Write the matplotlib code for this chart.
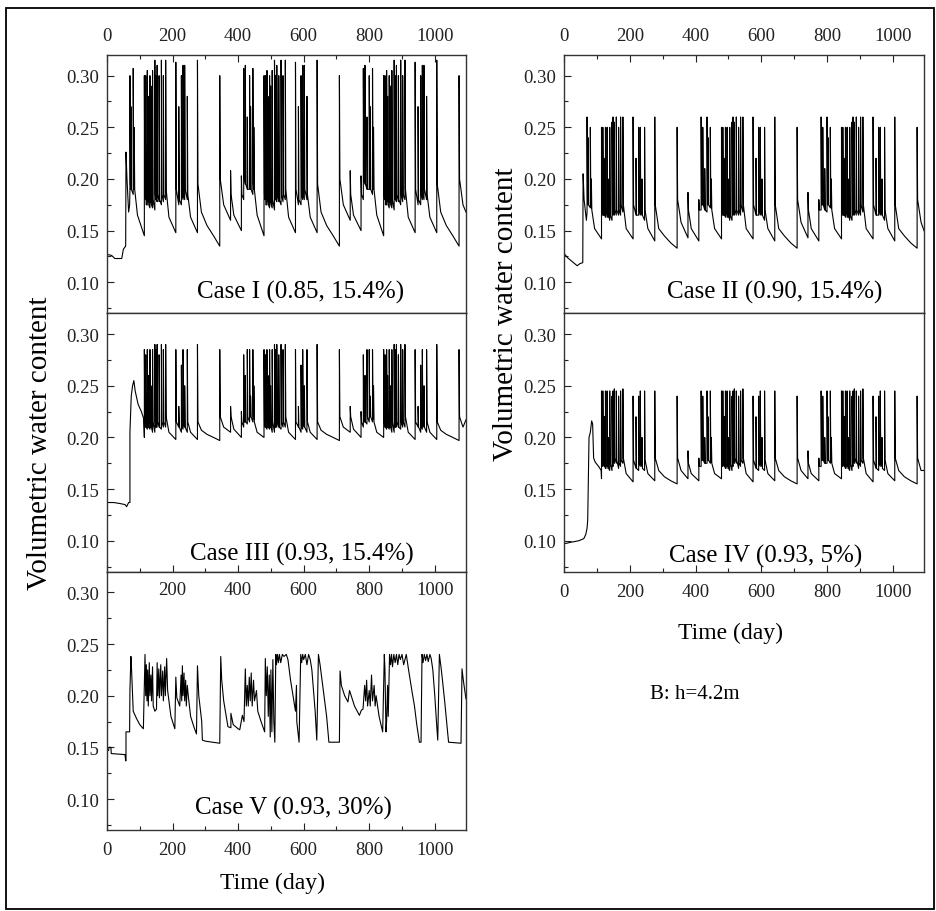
import matplotlib
matplotlib.use("Agg")
import matplotlib.pyplot as plt
from matplotlib.patches import Rectangle
from matplotlib.ticker import FormatStrFormatter, MultipleLocator

plt.rcParams["font.family"] = ["Liberation Serif", "DejaVu Serif"]

# rain events of the (repeated) climate year, day within the year
rain_day = [12, 45, 52, 57, 63, 70, 73, 80, 83, 114, 118, 123, 126, 131, 134, 139,
            146, 149, 153, 159, 166, 172, 179, 210, 219, 227, 232, 237, 245, 276, 344]
# knots inside the long dry spells
dry_day = [22, 93, 189, 255, 288, 305, 325, 356]

# Case I
init_days_1 = [0, 14, 24, 45, 50, 57, 58, 61, 66, 69]
init_vals_1 = [.127, .126, .123, .123, .132, .135, .226, .200, .168, .175]
low_1 = [.160, .150, .180, .195, .190, .190, .190, .185, .190, .145, .180, .175, .178, .172, .177, .172,
         .170, .180, .178, .178, .175, .178, .180, .148, .175, .175, .180, .180, .180, .148, .135]
peak_1 = [.208, .203, .307, .310, .260, .300, .270, .307, .250, .300, .300, .305, .280, .300, .290, .305,
          .315, .300, .310, .300, .315, .300, .315, .313, .270, .300, .310, .310, .280, .315, .300]
rest_1 = [.185, .185, .200, .195, .190, .195, .190, .195, .190, .185, .175, .180, .175, .180, .175, .180,
          .185, .180, .185, .180, .185, .185, .190, .190, .180, .185, .185, .190, .185, .195, .200]
dry_1 = [.165, .165, .163, .163, .168, .155, .145, .175]

# Case II
init_days_2 = [0, 10, 25, 40, 48, 57, 58, 61, 68]
init_vals_2 = [.128, .124, .120, .116, .118, .119, .205, .180, .160]
low_2 = [.143, .140, .170, .175, .170, .168, .175, .172, .172, .142, .165, .165, .163, .163, .163, .160,
         .160, .165, .165, .165, .165, .165, .168, .142, .165, .165, .165, .165, .160, .140, .133]
peak_2 = [.187, .180, .260, .250, .210, .260, .240, .250, .200, .250, .250, .220, .250, .250, .200, .250,
          .255, .260, .255, .260, .250, .260, .260, .260, .220, .250, .250, .200, .250, .260, .250]
rest_2 = [.170, .170, .175, .175, .170, .180, .175, .175, .170, .170, .165, .165, .170, .165, .165, .165,
          .170, .170, .170, .170, .170, .175, .175, .175, .165, .170, .168, .165, .170, .175, .180]
dry_2 = [.152, .152, .152, .152, .152, .145, .138, .158]

# Case III
init_days_3 = [0, 20, 40, 55, 60, 66, 70, 70, 74, 78, 82, 86, 95, 105, 112]
init_vals_3 = [.137, .137, .136, .135, .133, .137, .137, .205, .240, .250, .255, .245, .232, .225, .218]
low_3 = [.205, .200, .210, .215, .213, .215, .220, .215, .218, .200, .210, .208, .210, .208, .210, .205,
         .205, .210, .210, .210, .208, .210, .210, .198, .210, .205, .208, .210, .205, .198, .197]
peak_3 = [.230, .225, .280, .260, .285, .285, .240, .285, .250, .285, .280, .285, .260, .285, .250, .285,
          .290, .285, .290, .280, .290, .285, .290, .285, .230, .270, .285, .250, .285, .290, .285]
rest_3 = [.220, .215, .215, .215, .220, .220, .220, .220, .215, .215, .210, .215, .210, .215, .210, .215,
          .215, .210, .215, .210, .215, .215, .220, .215, .210, .210, .212, .210, .215, .215, .220]
dry_3 = [.208, .205, .205, .205, .207, .203, .200, .210]

# Case IV
init_days_4 = [0, 20, 45, 60, 66, 70, 72, 74, 76, 80, 84, 87, 90, 95, 105, 113]
init_vals_4 = [.097, .0985, .100, .102, .106, .112, .120, .160, .200, .205, .216, .213, .180, .176, .172, .168]
low_4 = [.160, .158, .172, .178, .175, .175, .178, .175, .176, .160, .172, .172, .170, .170, .172, .168,
         .168, .172, .175, .175, .170, .172, .175, .157, .170, .168, .172, .172, .168, .158, .155]
peak_4 = [.187, .180, .245, .240, .200, .245, .220, .245, .200, .245, .245, .220, .245, .245, .200, .245,
          .240, .245, .247, .245, .240, .245, .247, .240, .220, .240, .245, .200, .245, .245, .240]
rest_4 = [.175, .172, .178, .178, .175, .180, .178, .178, .175, .175, .175, .172, .175, .175, .170, .175,
          .175, .178, .180, .178, .175, .178, .180, .178, .170, .175, .175, .170, .178, .180, .180]
dry_4 = [.165, .165, .165, .165, .168, .162, .158, .168]

# Case V (read as one record, the years differ here)
days_5 = [0, 5, 6, 12, 13, 55, 57, 58, 58, 69, 70, 73, 75, 78, 80, 90, 100, 111, 116, 118, 120, 122,
          124, 126, 129, 131, 134, 136, 139, 141, 146, 151, 153, 155, 158, 160, 164, 166, 170, 172,
          176, 178, 182, 185, 195, 207, 210, 213, 222, 226, 228, 230, 232, 235, 237, 240, 242, 245,
          248, 255, 265, 273, 276, 280, 289, 291, 300, 344, 347, 350, 356, 365, 369, 378, 378, 385,
          400, 405, 413, 418, 422, 425, 428, 431, 434, 437, 440, 443, 447, 450, 456, 460, 470, 481,
          483, 486, 489, 492, 495, 498, 500, 503, 506, 509, 512, 515, 517, 520, 523, 526, 530, 535,
          540, 547, 552, 560, 570, 575, 578, 579, 586, 591, 594, 597, 600, 605, 610, 615, 620, 625,
          630, 635, 640, 645, 650, 660, 670, 677, 709, 711, 715, 725, 735, 740, 745, 755, 770, 776,
          781, 786, 789, 792, 795, 800, 803, 807, 810, 815, 818, 821, 830, 841, 846, 848, 851, 853,
          856, 858, 862, 865, 868, 871, 875, 879, 883, 887, 891, 895, 900, 905, 913, 920, 930, 938,
          945, 953, 958, 961, 964, 968, 972, 976, 980, 985, 989, 994, 1000, 1005, 1009, 1014, 1020,
          1030, 1042, 1080, 1083, 1087, 1095]
vals_5 = [.147, .147, .150, .150, .144, .143, .137, .137, .165, .165, .205, .238, .225, .200, .185,
          .178, .172, .168, .240, .200, .230, .195, .225, .190, .232, .200, .220, .195, .228, .190,
          .185, .187, .232, .200, .226, .198, .230, .200, .224, .195, .228, .200, .236, .205, .180,
          .168, .218, .198, .190, .220, .195, .229, .200, .222, .195, .215, .190, .210, .200, .180,
          .170, .163, .229, .200, .175, .157, .156, .154, .238, .215, .195, .178, .170, .169, .183,
          .172, .168, .167, .181, .175, .226, .190, .210, .190, .218, .195, .222, .190, .215, .195,
          .205, .185, .175, .165, .236, .200, .228, .180, .220, .160, .225, .165, .235, .175, .155,
          .240, .230, .240, .232, .240, .232, .240, .238, .240, .235, .215, .195, .185, .210, .175,
          .155, .240, .232, .240, .235, .240, .230, .240, .235, .225, .205, .185, .157, .240, .230,
          .205, .180, .155, .155, .224, .210, .200, .194, .205, .200, .190, .181, .186, .187, .210,
          .195, .215, .190, .205, .190, .220, .195, .210, .190, .200, .180, .165, .240, .225, .165,
          .175, .210, .180, .240, .230, .240, .228, .240, .232, .240, .230, .240, .235, .240, .230,
          .240, .225, .205, .190, .172, .155, .155, .240, .232, .240, .234, .240, .233, .240, .236,
          .225, .200, .175, .157, .240, .225, .195, .155, .154, .226, .215, .197]

case_labels = ["Case I (0.85, 15.4%)", "Case II (0.90, 15.4%)", "Case III (0.93, 15.4%)",
               "Case IV (0.93, 5%)", "Case V (0.93, 30%)"]


def build_series(init_days, init_vals, low, peak, rest, dry, first_day, last_value):
    points = list(zip(init_days, init_vals))
    cycle = []
    for year_start in (0, 365, 730):
        for d, lo, pk, re in zip(rain_day, low, peak, rest):
            t = year_start + d
            if first_day <= t <= 1095:
                cycle += [(t, lo), (t, pk), (t + 1.5, re)]
        for d, v in zip(dry_day, dry):
            t = year_start + d
            if first_day <= t <= 1095:
                cycle.append((t, v))
    cycle.sort(key=lambda p: p[0])
    points += cycle
    points.append((1095, last_value))
    return [p[0] for p in points], [p[1] for p in points]


series = [
    build_series(init_days_1, init_vals_1, low_1, peak_1, rest_1, dry_1, 70, .168),
    build_series(init_days_2, init_vals_2, low_2, peak_2, rest_2, dry_2, 70, .150),
    build_series(init_days_3, init_vals_3, low_3, peak_3, rest_3, dry_3, 114, .217),
    build_series(init_days_4, init_vals_4, low_4, peak_4, rest_4, dry_4, 114, .168),
    (days_5, vals_5),
]

fig = plt.figure(figsize=(9.36, 9.12), dpi=100)

left_x, right_x = 0.1143, 0.6026
col_w = 0.3846
panel_h = 0.2832
rows = [0.6554, 0.3720, 0.0888]
positions = [
    (left_x, rows[0]), (right_x, rows[0]),
    (left_x, rows[1]), (right_x, rows[1]),
    (left_x, rows[2]),
]
label_pos = [(0.54, 0.083), (0.585, 0.083), (0.542, 0.069), (0.56, 0.062), (0.52, 0.089)]

axes = []
for i, ((x0, y0), (days, vals)) in enumerate(zip(positions, series)):
    ax = fig.add_axes([x0, y0, col_w if x0 > 0.5 else 0.3835, panel_h])
    ax.plot(days, vals, color="black", lw=0.8)
    ax.set_xlim(0, 1095)
    ax.set_ylim(0.07, 0.32)
    ax.xaxis.set_major_locator(MultipleLocator(200))
    ax.xaxis.set_minor_locator(MultipleLocator(100))
    ax.yaxis.set_major_locator(MultipleLocator(0.05))
    ax.yaxis.set_minor_locator(MultipleLocator(0.025))
    ax.yaxis.set_major_formatter(FormatStrFormatter("%.2f"))
    ax.tick_params(which="both", direction="in", left=True, right=False,
                   top=False, bottom=False, labelbottom=False, labelsize=13.5, colors="#222222")
    ax.tick_params(which="major", length=5, width=0.8)
    ax.tick_params(which="minor", length=3, width=0.8)
    ax.tick_params(axis="y", pad=6)
    for sp in ax.spines.values():
        sp.set_linewidth(1.0)
        sp.set_color("#333333")
    ax.text(*label_pos[i], case_labels[i], transform=ax.transAxes, ha="center", va="center",
            fontsize=18)
    axes.append(ax)

# top row: labels on top
for ax in axes[:2]:
    ax.tick_params(axis="x", which="both", top=True, labeltop=True, pad=8)
# Case III: ticks on its lower edge
axes[2].tick_params(axis="x", which="both", bottom=True)
# bottom panels
for ax in (axes[3], axes[4]):
    ax.tick_params(axis="x", which="both", bottom=True, labelbottom=True, pad=8)

# Case V repeats the day scale inside its top edge
sec = axes[4].secondary_xaxis("top")
sec.set_xticks([200, 400, 600, 800, 1000])
sec.tick_params(axis="x", length=0, pad=-19, labelsize=13.5, colors="#222222")
sec.spines["top"].set_visible(False)

fig.text(0.043, (rows[2] + rows[0] + panel_h) / 2, "Volumetric water content", rotation=90,
         ha="center", va="center", fontsize=21)
fig.text(0.541, (rows[1] + rows[0] + panel_h) / 2, "Volumetric water content", rotation=90,
         ha="center", va="center", fontsize=21)
fig.text(0.2906, 0.031, "Time (day)", ha="center", va="center", fontsize=17)
fig.text(0.780, 0.306, "Time (day)", ha="center", va="center", fontsize=17)
fig.text(0.7425, 0.238, "B: h=4.2m", ha="center", va="center", fontsize=15)

fig.add_artist(Rectangle((0.006, 0.002), 0.992, 0.988, transform=fig.transFigure,
                         fill=False, lw=1.3, edgecolor="black"))

fig.savefig("out.png", dpi=100)
